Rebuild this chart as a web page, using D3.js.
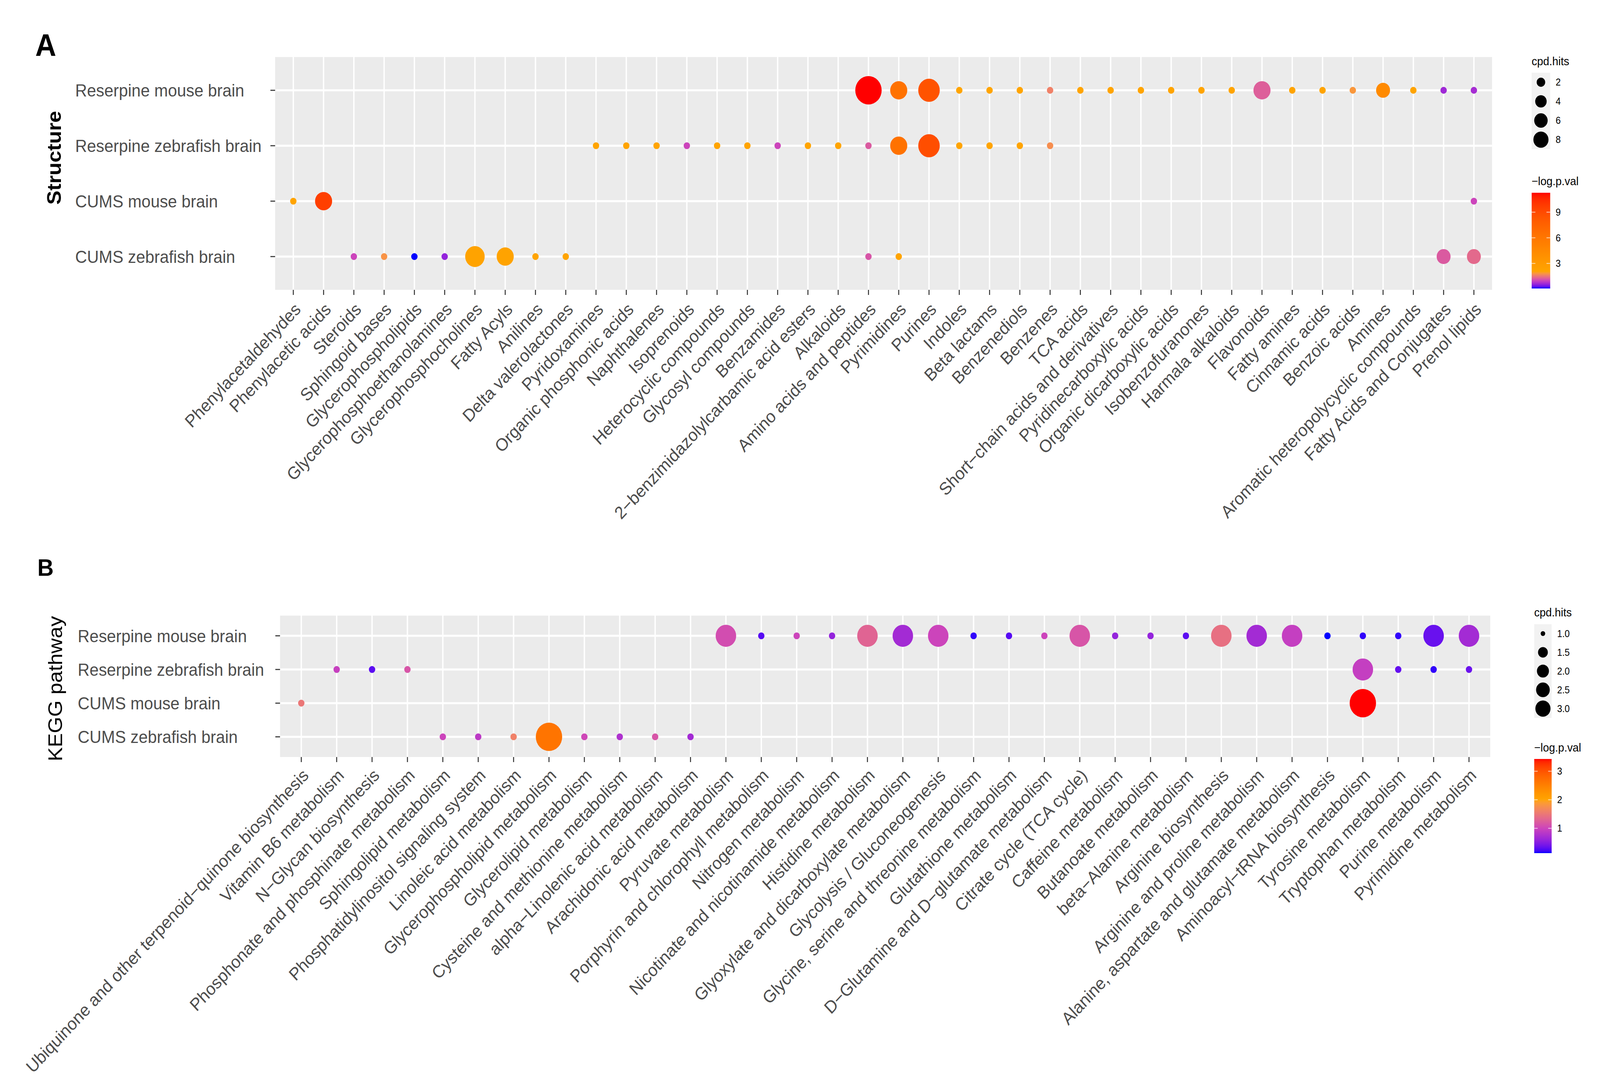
<!DOCTYPE html>
<html><head><meta charset="utf-8">
<script src="https://cdn.jsdelivr.net/npm/d3@7"></script>
<style>
html,body{margin:0;padding:0;background:#fff;height:100%;overflow:hidden}
svg{display:block;width:100vw;height:100vh}
text{font-family:Arial,"Liberation Sans",Helvetica,sans-serif}
</style>
</head><body>
<svg id="chart" viewBox="0 0 4402 2793" preserveAspectRatio="none" xmlns="http://www.w3.org/2000/svg"></svg>
<script>
// ---------------- DATA ----------------
const groups = ["Reserpine mouse brain","Reserpine zebrafish brain","CUMS mouse brain","CUMS zebrafish brain"];

const structureClasses = ["Phenylacetaldehydes","Phenylacetic acids","Steroids","Sphingoid bases","Glycerophospholipids",
 "Glycerophosphoethanolamines","Glycerophosphocholines","Fatty Acyls","Anilines","Delta valerolactones","Pyridoxamines",
 "Organic phosphonic acids","Naphthalenes","Isoprenoids","Heterocyclic compounds","Glycosyl compounds","Benzamides",
 "2−benzimidazolylcarbamic acid esters","Alkaloids","Amino acids and peptides","Pyrimidines","Purines","Indoles",
 "Beta lactams","Benzenediols","Benzenes","TCA acids","Short−chain acids and derivatives","Pyridinecarboxylic acids",
 "Organic dicarboxylic acids","Isobenzofuranones","Harmala alkaloids","Flavonoids","Fatty amines","Cinnamic acids",
 "Benzoic acids","Amines","Aromatic heteropolycyclic compounds","Fatty Acids and Conjugates","Prenol lipids"];

const keggPathways = ["Ubiquinone and other terpenoid−quinone biosynthesis","Vitamin B6 metabolism","N−Glycan biosynthesis",
 "Phosphonate and phosphinate metabolism","Sphingolipid metabolism","Phosphatidylinositol signaling system",
 "Linoleic acid metabolism","Glycerophospholipid metabolism","Glycerolipid metabolism","Cysteine and methionine metabolism",
 "alpha−Linolenic acid metabolism","Arachidonic acid metabolism","Pyruvate metabolism","Porphyrin and chlorophyll metabolism",
 "Nitrogen metabolism","Nicotinate and nicotinamide metabolism","Histidine metabolism","Glyoxylate and dicarboxylate metabolism",
 "Glycolysis / Gluconeogenesis","Glycine, serine and threonine metabolism","Glutathione metabolism",
 "D−Glutamine and D−glutamate metabolism","Citrate cycle (TCA cycle)","Caffeine metabolism","Butanoate metabolism",
 "beta−Alanine metabolism","Arginine biosynthesis","Arginine and proline metabolism",
 "Alanine, aspartate and glutamate metabolism","Aminoacyl−tRNA biosynthesis","Tyrosine metabolism",
 "Tryptophan metabolism","Purine metabolism","Pyrimidine metabolism"];

// [category, cpd.hits, -log p]
const structResMouse = [
 ["Amino acids and peptides",8,11.27],["Pyrimidines",3,6.4],["Purines",5,8.5],["Indoles",1,2.1],
 ["Beta lactams",1,2.1],["Benzenediols",1,2.1],["Benzenes",1,1.6],["TCA acids",1,2.1],
 ["Short−chain acids and derivatives",1,2.1],["Pyridinecarboxylic acids",1,2.1],["Organic dicarboxylic acids",1,2.1],
 ["Isobenzofuranones",1,2.1],["Harmala alkaloids",1,2.1],["Flavonoids",3,1.25],["Fatty amines",1,2.1],
 ["Cinnamic acids",1,2.1],["Benzoic acids",1,1.85],["Amines",2,4.4],["Aromatic heteropolycyclic compounds",1,2.1],
 ["Fatty Acids and Conjugates",1,0.63],["Prenol lipids",1,0.68]];
const structResZebra = [
 ["Pyridoxamines",1,2.1],["Organic phosphonic acids",1,2.1],["Naphthalenes",1,2.1],["Isoprenoids",1,1.0],
 ["Heterocyclic compounds",1,2.1],["Glycosyl compounds",1,2.1],["Benzamides",1,1.0],
 ["2−benzimidazolylcarbamic acid esters",1,2.1],["Alkaloids",1,2.1],["Amino acids and peptides",1,1.2],
 ["Pyrimidines",3,6.4],["Purines",5,8.8],["Indoles",1,2.1],["Beta lactams",1,2.1],["Benzenediols",1,2.1],["Benzenes",1,1.75]];
const structCumsMouse = [["Phenylacetaldehydes",1,2.1],["Phenylacetic acids",3,9.6],["Prenol lipids",1,1.0]];
const structCumsZebra = [
 ["Steroids",1,1.0],["Sphingoid bases",1,1.8],["Glycerophospholipids",1,0.07],["Glycerophosphoethanolamines",1,0.55],
 ["Glycerophosphocholines",4,2.2],["Fatty Acyls",3,2.2],["Anilines",1,2.1],["Delta valerolactones",1,2.1],
 ["Amino acids and peptides",1,1.15],["Pyrimidines",1,2.1],["Fatty Acids and Conjugates",2,1.2],["Prenol lipids",2,1.35]];

const keggResMouse = [
 ["Pyruvate metabolism",2,1.08],["Porphyrin and chlorophyll metabolism",1,0.28],["Nitrogen metabolism",1,1.0],
 ["Nicotinate and nicotinamide metabolism",1,0.58],["Histidine metabolism",2,1.3],
 ["Glyoxylate and dicarboxylate metabolism",2,0.68],["Glycolysis / Gluconeogenesis",2,1.0],
 ["Glycine, serine and threonine metabolism",1,0.18],["Glutathione metabolism",1,0.28],
 ["D−Glutamine and D−glutamate metabolism",1,1.0],["Citrate cycle (TCA cycle)",2,1.15],["Caffeine metabolism",1,0.58],
 ["Butanoate metabolism",1,0.58],["beta−Alanine metabolism",1,0.3],["Arginine biosynthesis",2,1.42],
 ["Arginine and proline metabolism",2,0.68],["Alanine, aspartate and glutamate metabolism",2,0.93],
 ["Aminoacyl−tRNA biosynthesis",1,0.13],["Tyrosine metabolism",1,0.18],["Tryptophan metabolism",1,0.18],
 ["Purine metabolism",2,0.35],["Pyrimidine metabolism",2,0.68]];
const keggResZebra = [
 ["Vitamin B6 metabolism",1,0.95],["N−Glycan biosynthesis",1,0.3],["Phosphonate and phosphinate metabolism",1,1.15],
 ["Tyrosine metabolism",2,0.93],["Tryptophan metabolism",1,0.33],["Purine metabolism",1,0.18],["Pyrimidine metabolism",1,0.36]];
const keggCumsMouse = [["Ubiquinone and other terpenoid−quinone biosynthesis",1,1.5],["Tyrosine metabolism",3,3.43]];
const keggCumsZebra = [
 ["Sphingolipid metabolism",1,1.0],["Phosphatidylinositol signaling system",1,0.87],["Linoleic acid metabolism",1,1.6],
 ["Glycerophospholipid metabolism",3,2.65],["Glycerolipid metabolism",1,1.03],["Cysteine and methionine metabolism",1,0.76],
 ["alpha−Linolenic acid metabolism",1,1.15],["Arachidonic acid metabolism",1,0.68]];

const sizeBreaksA = [2,4,6,8];
const sizeBreaksB = [1.0,1.5,2.0,2.5,3.0];
const colorBreaksA = [3,6,9];
const colorBreaksB = [1,2,3];

// ---------------- DRAWING ----------------
const svg = d3.select("#chart");
svg.append("rect").attr("width",4402).attr("height",2793).attr("fill","#fff");

function toRows(sets){
  const out=[];
  sets.forEach(([grp,arr])=>arr.forEach(([cat,hits,lp])=>out.push({grp,cat,hits,lp})));
  return out;
}

function drawPanel(cfg){
  const g = svg.append("g");
  const rows = cfg.rows;
  const x = d3.scalePoint().domain(cfg.cats).range([cfg.left,cfg.right]).padding(0.6);
  const y = d3.scalePoint().domain(groups).range([cfg.top,cfg.bottom]).padding(0.6);
  const [hMin,hMax] = d3.extent(rows,d=>d.hits);
  const [cMin,cMax] = d3.extent(rows,d=>d.lp);
  const r = d3.scalePow().exponent(0.5).domain([0,hMax-hMin]).range([8.8,36.3]);
  const rLeg = d3.scalePow().exponent(0.5).domain([0,hMax-hMin]).range([6.2,20.8]);
  const col = d3.scaleLinear().domain([cMin,1,2,cMax])
      .range(["#0000FF","#CC44BB","#FFA500","#FF0000"]).interpolate(d3.interpolateLab);

  // panel
  g.append("rect").attr("x",cfg.left).attr("y",cfg.top)
   .attr("width",cfg.right-cfg.left).attr("height",cfg.bottom-cfg.top).attr("fill","#EBEBEB");
  g.selectAll(".vg").data(cfg.cats).join("line")
   .attr("x1",d=>x(d)).attr("x2",d=>x(d)).attr("y1",cfg.top).attr("y2",cfg.bottom)
   .attr("stroke","#fff").attr("stroke-width",3.8);
  g.selectAll(".hg").data(groups).join("line")
   .attr("y1",d=>y(d)).attr("y2",d=>y(d)).attr("x1",cfg.left).attr("x2",cfg.right)
   .attr("stroke","#fff").attr("stroke-width",5.2);

  // ticks
  g.selectAll(".xt").data(cfg.cats).join("line")
   .attr("x1",d=>x(d)).attr("x2",d=>x(d)).attr("y1",cfg.bottom).attr("y2",cfg.bottom+13)
   .attr("stroke","#333").attr("stroke-width",2.7);
  g.selectAll(".yt").data(groups).join("line")
   .attr("y1",d=>y(d)).attr("y2",d=>y(d)).attr("x1",cfg.left-13).attr("x2",cfg.left)
   .attr("stroke","#333").attr("stroke-width",2.7);

  // y labels (left aligned)
  g.selectAll(".yl").data(groups).join("text")
   .attr("x",cfg.ylabX).attr("y",d=>y(d)).attr("dy","0.36em")
   .attr("font-size",45).attr("fill","#4D4D4D").text(d=>d);

  // x labels rotated 45
  g.selectAll(".xl").data(cfg.cats).join("text")
   .attr("transform",d=>`translate(${x(d)},${cfg.xlabY}) rotate(-45)`)
   .attr("text-anchor","end").attr("dy","0.72em")
   .attr("font-size",45).attr("fill","#4D4D4D").text(d=>d);

  // points
  g.selectAll(".pt").data(rows).join("circle")
   .attr("cx",d=>x(d.cat)).attr("cy",d=>y(d.grp))
   .attr("r",d=>r(d.hits-hMin)).attr("fill",d=>col(d.lp));

  // axis title
  g.append("text").attr("transform",`translate(${cfg.titleX},${cfg.titleY}) rotate(-90)`)
   .attr("text-anchor","middle").attr("dy","0.36em")
   .attr("font-size",cfg.titleSize).attr("font-weight",cfg.titleWeight).attr("fill","#000").text(cfg.title);

  // tag
  g.append("text").attr("x",cfg.tagX).attr("y",cfg.tagY).attr("font-size",cfg.tagSize)
   .attr("font-weight","bold").attr("fill","#000").text(cfg.tag);

  // ---- size legend
  const L = cfg.leg;
  g.append("text").attr("x",L.x).attr("y",L.sizeTitleY).attr("font-size",30).attr("fill","#000").text("cpd.hits");
  g.append("rect").attr("x",L.x).attr("y",L.keyTop).attr("width",L.keyW)
   .attr("height",L.keyH*cfg.sizeBreaks.length).attr("fill","#F2F2F2");
  g.selectAll(".lk").data(cfg.sizeBreaks).join("circle")
   .attr("cx",L.x+L.keyW/2).attr("cy",(d,i)=>L.keyTop+L.keyH*(i+0.5))
   .attr("r",d=>rLeg(d-hMin)).attr("fill","#000");
  g.selectAll(".ll").data(cfg.sizeBreaks).join("text")
   .attr("x",L.x+L.keyW+15).attr("y",(d,i)=>L.keyTop+L.keyH*(i+0.5)).attr("dy","0.36em")
   .attr("font-size",25).attr("fill","#000").text(d=>cfg.sizeFmt(d));

  // ---- colour bar
  g.append("text").attr("x",L.x).attr("y",L.colTitleY).attr("font-size",30).attr("fill","#000").text("−log.p.val");
  const cy = d3.scaleLinear().domain([cMin,cMax]).range([L.barBottom,L.barTop]);
  const gid = "grad"+cfg.tag;
  const grad = svg.append("defs").append("linearGradient").attr("id",gid)
     .attr("x1",0).attr("x2",0).attr("y1",1).attr("y2",0);
  d3.range(0,1.0001,0.02).forEach(t=>{
    grad.append("stop").attr("offset",t).attr("stop-color",col(cMin+t*(cMax-cMin)));
  });
  g.append("rect").attr("x",L.x).attr("y",L.barTop).attr("width",L.barW)
   .attr("height",L.barBottom-L.barTop).attr("fill",`url(#${gid})`);
  cfg.colorBreaks.forEach(b=>{
    g.append("line").attr("x1",L.x).attr("x2",L.x+L.barW/5).attr("y1",cy(b)).attr("y2",cy(b))
     .attr("stroke","#fff").attr("stroke-opacity",0.7).attr("stroke-width",2);
    g.append("line").attr("x1",L.x+L.barW*4/5).attr("x2",L.x+L.barW).attr("y1",cy(b)).attr("y2",cy(b))
     .attr("stroke","#fff").attr("stroke-opacity",0.7).attr("stroke-width",2);
  });
  g.selectAll(".cl").data(cfg.colorBreaks).join("text")
   .attr("x",L.x+L.barW+15).attr("y",d=>cy(d)).attr("dy","0.36em")
   .attr("font-size",25).attr("fill","#000").text(d=>d);
}

drawPanel({
  tag:"A", tagX:97, tagY:143, tagSize:80,
  cats:structureClasses,
  rows:toRows([[groups[0],structResMouse],[groups[1],structResZebra],[groups[2],structCumsMouse],[groups[3],structCumsZebra]]),
  left:757,right:4105,top:146,bottom:742,
  ylabX:207, xlabY:772,
  title:"Structure", titleX:148, titleY:404, titleSize:54, titleWeight:"bold",
  sizeBreaks:sizeBreaksA, sizeFmt:d=>d, colorBreaks:colorBreaksA,
  leg:{x:4214,sizeTitleY:167,keyTop:186,keyH:49,keyW:51,colTitleY:474,barTop:493.5,barBottom:738.5,barW:51}
});

drawPanel({
  tag:"B", tagX:103, tagY:1474, tagSize:62,
  cats:keggPathways,
  rows:toRows([[groups[0],keggResMouse],[groups[1],keggResZebra],[groups[2],keggCumsMouse],[groups[3],keggCumsZebra]]),
  left:770.5,right:4100,top:1576,bottom:1938,
  ylabX:214, xlabY:1965,
  title:"KEGG pathway", titleX:151, titleY:1763, titleSize:54, titleWeight:"normal",
  sizeBreaks:sizeBreaksB, sizeFmt:d=>d.toFixed(1), colorBreaks:colorBreaksB,
  leg:{x:4221,sizeTitleY:1578,keyTop:1598,keyH:48,keyW:48,colTitleY:1924,barTop:1943,barBottom:2184,barW:48}
});
</script>
</body></html>
